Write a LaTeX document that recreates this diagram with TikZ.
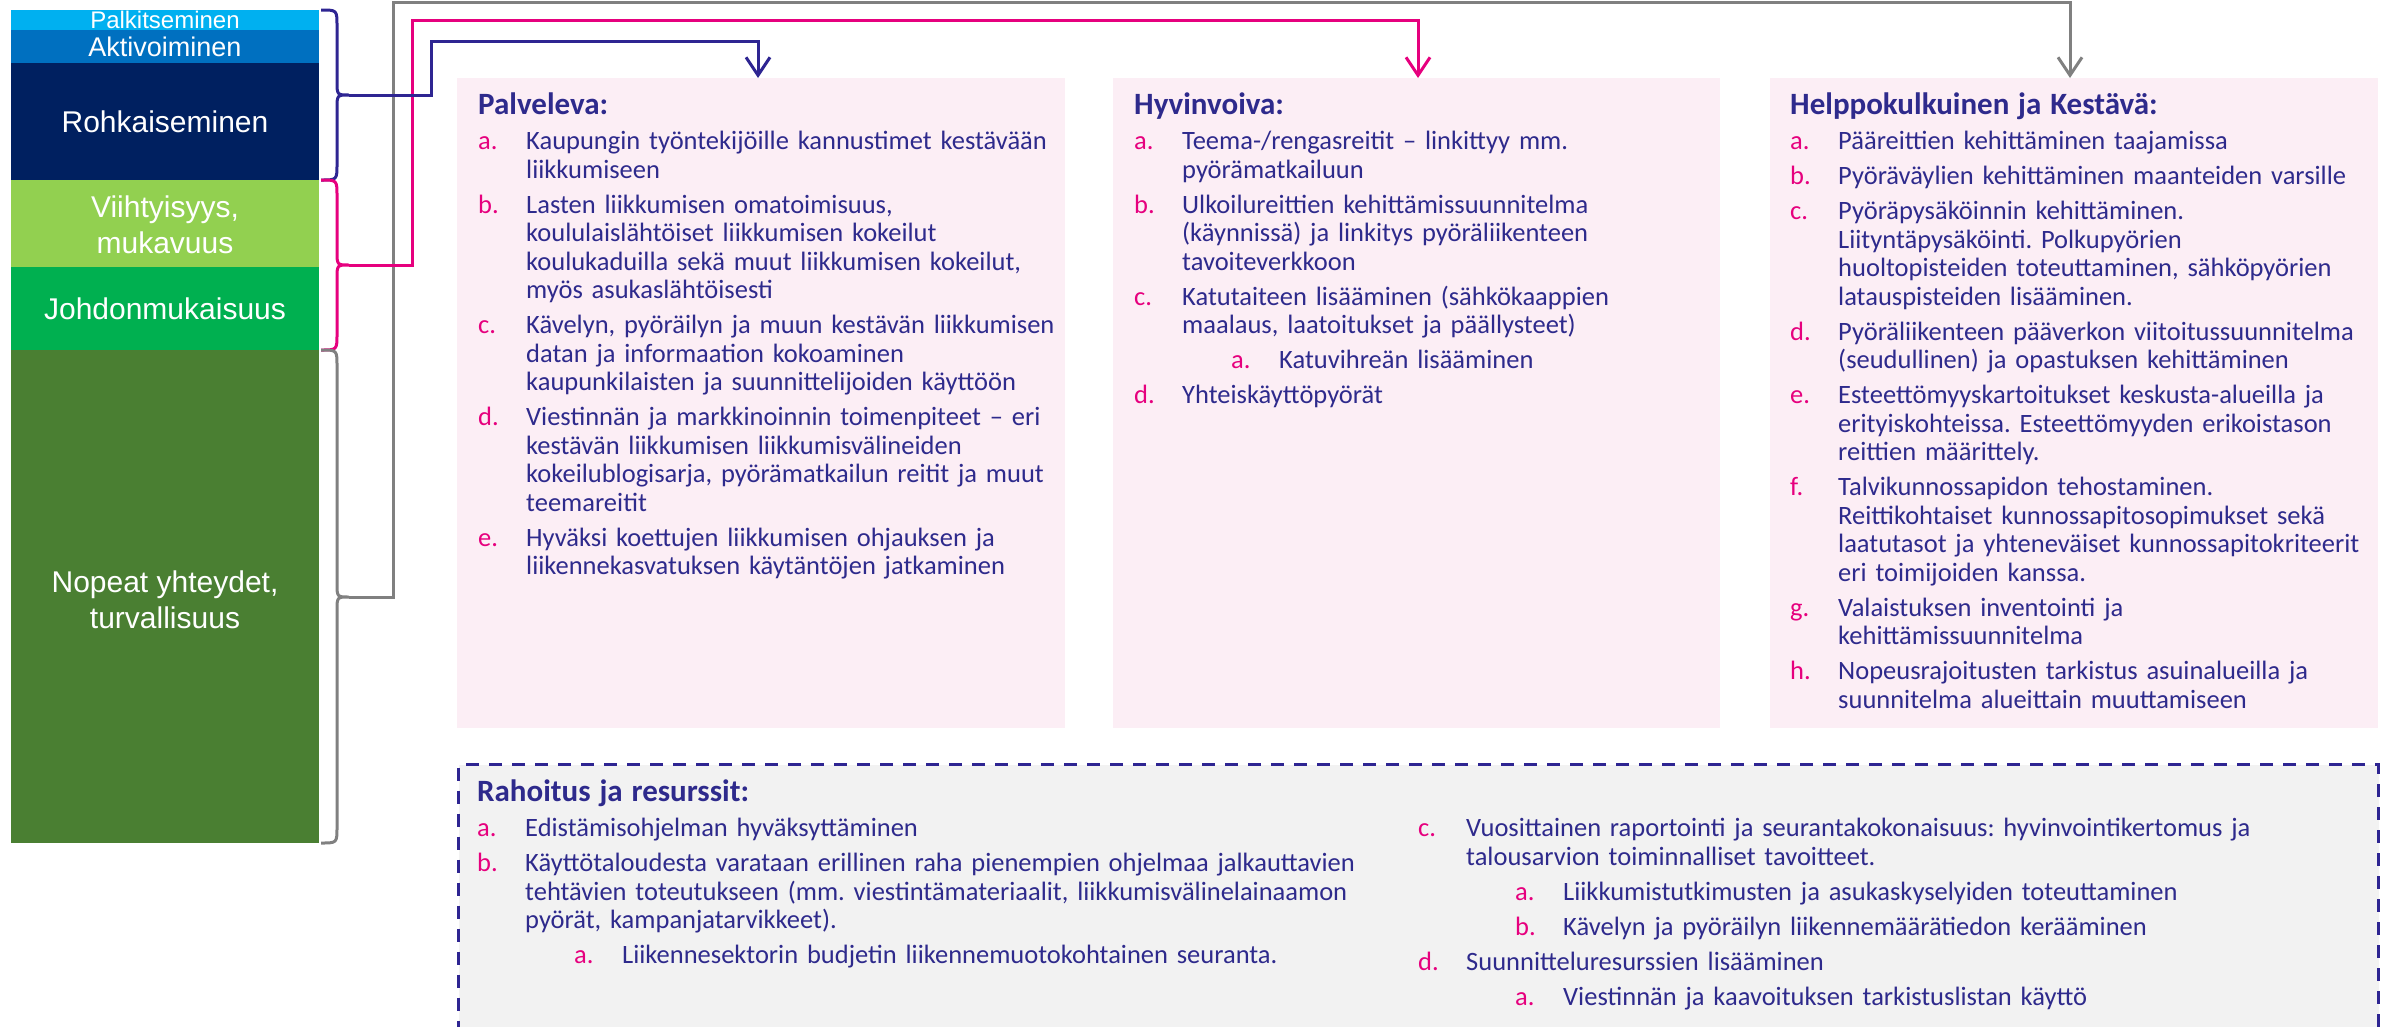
\documentclass[tikz,border=0pt]{standalone}
\usepackage{fontspec}
\setmainfont{Carlito}
\newfontfamily\barfont{Liberation Sans}
\usetikzlibrary{positioning, arrows.meta}
\tikzset{>={Straight Barb[length=18pt,width=24pt]}}
\frenchspacing
\definecolor{barlblue}{HTML}{00B0F0}
\definecolor{barblue}{HTML}{0070C0}
\definecolor{barnavy}{HTML}{002060}
\definecolor{barlgreen}{HTML}{92D050}
\definecolor{bargreen}{HTML}{00B050}
\definecolor{bardgreen}{HTML}{4A7F32}
\definecolor{mynavy}{HTML}{2E2592}
\definecolor{mypink}{HTML}{E6007E}
\definecolor{mygray}{HTML}{808080}
\definecolor{boxpink}{HTML}{FCEEF5}
\definecolor{boxgray}{HTML}{F2F2F2}
\definecolor{txtblue}{HTML}{2E2A8C}

\newcommand{\hd}[1]{\setlength{\parskip}{6.5pt}{\fontsize{31}{36}\selectfont\bfseries #1}\par}
\newcommand{\itm}[2]{\par\hangindent=48pt\hangafter=1\noindent\makebox[48pt][l]{\textcolor{mypink}{#1}}#2\par}
\newcommand{\subitm}[2]{\par\hangindent=145pt\hangafter=1\noindent\hspace*{97pt}\makebox[48pt][l]{\textcolor{mypink}{#1}}#2\par}

\begin{document}
\begin{tikzpicture}[x=1pt, y=-1pt,
    bartext/.style={text=white, font=\barfont\fontsize{30}{36}\selectfont, align=center, inner sep=0pt},
    conn/.style={line width=3pt, ->},
    curlyline/.style={line width=3pt},
    pinkbox/.style={fill=boxpink, anchor=north west, inner sep=0pt, minimum height=650pt},
    boxtext/.style={anchor=north west, inner sep=0pt, text width=#1, align=left, text=txtblue, font=\fontsize{26.5}{28.5}\selectfont}]
  \useasboundingbox (0,0) rectangle (2384,1026);
  \clip (0,0) rectangle (2384,1026);

  % colour bars on the left
  \fill[barlblue] (11,10) rectangle (319,30);
  \fill[barblue] (11,30) rectangle (319,63);
  \fill[barnavy] (11,63) rectangle (319,180);
  \fill[barlgreen] (11,180) rectangle (319,267);
  \fill[bargreen] (11,267) rectangle (319,350);
  \fill[bardgreen] (11,350) rectangle (319,843);
  \node[bartext, font=\barfont\fontsize{24}{24}\selectfont] (palk) at (165,20) {Palkitseminen};
  \node[bartext, font=\barfont\fontsize{27}{30}\selectfont] (aktiv) at (165,47) {Aktivoiminen};
  \node[bartext] (rohk) at (165,122) {Rohkaiseminen};
  \node[bartext] (viiht) at (165,225) {Viihtyisyys,\\mukavuus};
  \node[bartext] (johd) at (165,309) {Johdonmukaisuus};
  \node[bartext] (nopeat) at (165,600) {Nopeat yhteydet,\\turvallisuus};

  % braces
  \foreach \ya/\yb/\yc/\col in {10/95/180/mynavy, 180/265/350/mypink, 350/597/843/mygray}
    \draw[curlyline, color=\col] (321,\ya) .. controls (337,\ya) .. (337,\ya+16) -- (337,\yb-14)
      .. controls (337,\yb) .. (349,\yb) .. controls (337,\yb) .. (337,\yb+14) -- (337,\yc-16)
      .. controls (337,\yc) .. (321,\yc);
  \coordinate (tipN) at (349,95);
  \coordinate (tipP) at (349,265);
  \coordinate (tipG) at (349,597);

  % goal boxes
  \node[pinkbox, minimum width=608pt] (palv) at (457,78) {};
  \node[pinkbox, minimum width=607pt] (hyv) at (1113,78) {};
  \node[pinkbox, minimum width=608pt] (help) at (1770,78) {};

  \node[boxtext=585pt, below right=15pt and 21pt of palv.north west] (palvtxt) {%
    \hd{Palveleva:}
    \itm{a.}{Kaupungin työntekijöille kannustimet kestävään\newline liikkumiseen}
    \itm{b.}{Lasten liikkumisen omatoimisuus,\newline koululaislähtöiset liikkumisen kokeilut\newline koulukaduilla sekä muut liikkumisen kokeilut,\newline myös asukaslähtöisesti}
    \itm{c.}{Kävelyn, pyöräilyn ja muun kestävän liikkumisen\newline datan ja informaation kokoaminen\newline kaupunkilaisten ja suunnittelijoiden käyttöön}
    \itm{d.}{Viestinnän ja markkinoinnin toimenpiteet -- eri\newline kestävän liikkumisen liikkumisvälineiden\newline kokeilublogisarja, pyörämatkailun reitit ja muut\newline teemareitit}
    \itm{e.}{Hyväksi koettujen liikkumisen ohjauksen ja\newline liikennekasvatuksen käytäntöjen jatkaminen}};

  \node[boxtext=585pt, below right=15pt and 21pt of hyv.north west] (hyvtxt) {%
    \hd{Hyvinvoiva:}
    \itm{a.}{Teema-/rengasreitit -- linkittyy mm.\newline pyörämatkailuun}
    \itm{b.}{Ulkoilureittien kehittämissuunnitelma\newline (käynnissä) ja linkitys pyöräliikenteen\newline tavoiteverkkoon}
    \itm{c.}{Katutaiteen lisääminen (sähkökaappien\newline maalaus, laatoitukset ja päällysteet)}
    \subitm{a.}{Katuvihreän lisääminen}
    \itm{d.}{Yhteiskäyttöpyörät}};

  \node[boxtext=588pt, below right=15pt and 20pt of help.north west] (helptxt) {%
    \hd{Helppokulkuinen ja Kestävä:}
    \itm{a.}{Pääreittien kehittäminen taajamissa}
    \itm{b.}{Pyöräväylien kehittäminen maanteiden varsille}
    \itm{c.}{Pyöräpysäköinnin kehittäminen.\newline Liityntäpysäköinti. Polkupyörien\newline huoltopisteiden toteuttaminen, sähköpyörien\newline latauspisteiden lisääminen.}
    \itm{d.}{Pyöräliikenteen pääverkon viitoitussuunnitelma\newline (seudullinen) ja opastuksen kehittäminen}
    \itm{e.}{Esteettömyyskartoitukset keskusta-alueilla ja\newline erityiskohteissa. Esteettömyyden erikoistason\newline reittien määrittely.}
    \itm{f.}{Talvikunnossapidon tehostaminen.\newline Reittikohtaiset kunnossapitosopimukset sekä\newline laatutasot ja yhteneväiset kunnossapitokriteerit\newline eri toimijoiden kanssa.}
    \itm{g.}{Valaistuksen inventointi ja\newline kehittämissuunnitelma}
    \itm{h.}{Nopeusrajoitusten tarkistus asuinalueilla ja\newline suunnitelma alueittain muuttamiseen}};

  % connectors from the braces
  \coordinate (navyA) at (431,41);
  \coordinate (pinkA) at (412,20);
  \coordinate (grayA) at (393,2.5);
  \coordinate (inPalv) at (758,78);
  \coordinate (inHyv) at (1418,78);
  \coordinate (inHelp) at (2070,78);
  \draw[conn, color=mygray] (tipG) -| (grayA) -| (inHelp);
  \draw[conn, color=mypink] (tipP) -| (pinkA) -| (inHyv);
  \draw[conn, color=mynavy] (tipN) -| (navyA) -| (inPalv);

  % resources box
  \node[anchor=north west, fill=boxgray, draw=mynavy, dash pattern=on 13pt off 10pt, line width=3pt,
    minimum width=1920pt, minimum height=320pt, inner sep=0pt] (fin) at (457,763) {};
  \node[boxtext=900pt, below right=17pt and 20pt of fin.north west] (finl) {%
    \hd{Rahoitus ja resurssit:}
    \itm{a.}{Edistämisohjelman hyväksyttäminen}
    \itm{b.}{Käyttötaloudesta varataan erillinen raha pienempien ohjelmaa jalkauttavien\newline tehtävien toteutukseen (mm. viestintämateriaalit, liikkumisvälinelainaamon\newline pyörät, kampanjatarvikkeet).}
    \subitm{a.}{Liikennesektorin budjetin liikennemuotokohtainen seuranta.}};
  \node[boxtext=950pt, below right=17pt and 961pt of fin.north west] (finr) {%
    \hd{\phantom{Rahoitus ja resurssit:}}
    \itm{c.}{Vuosittainen raportointi ja seurantakokonaisuus: hyvinvointikertomus ja\newline talousarvion toiminnalliset tavoitteet.}
    \subitm{a.}{Liikkumistutkimusten ja asukaskyselyiden toteuttaminen}
    \subitm{b.}{Kävelyn ja pyöräilyn liikennemäärätiedon kerääminen}
    \itm{d.}{Suunnitteluresurssien lisääminen}
    \subitm{a.}{Viestinnän ja kaavoituksen tarkistuslistan käyttö}};
\end{tikzpicture}
\end{document}
